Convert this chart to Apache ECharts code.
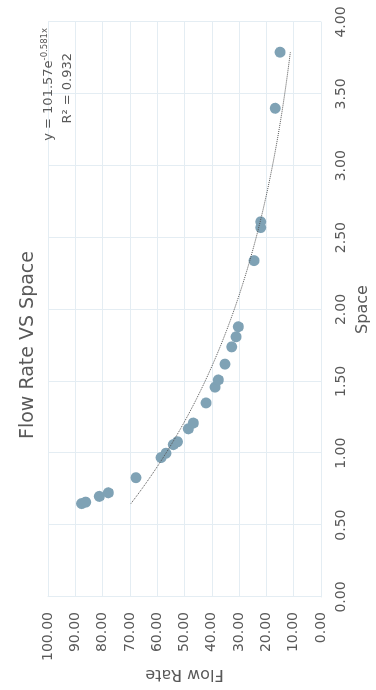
<!DOCTYPE html>
<html>
<head>
<meta charset="utf-8">
<script src="https://cdn.jsdelivr.net/npm/echarts@6/dist/echarts.min.js"></script>
<style>
  html, body { margin: 0; padding: 0; background: #ffffff; overflow: hidden; }
  #stage { position: relative; width: 376px; height: 690px; overflow: hidden; }
  /* The chart is laid out landscape and turned a quarter-turn to stand upright */
  #chart {
    position: absolute; left: 0; top: 0;
    width: 690px; height: 376px;
    transform-origin: 0 0;
    transform: translateY(690px) rotate(-90deg);
  }
</style>
</head>
<body>
<div id="stage"><div id="chart"></div></div>
<script>
// Measured observations: spacing (x) and flow rate (y)
const space = [0.65, 0.66, 0.70, 0.725, 0.83, 0.97, 1.00, 1.06, 1.08, 1.17, 1.21, 1.35, 1.46, 1.51, 1.62, 1.74, 1.81, 1.88, 2.34, 2.57, 2.61, 3.40, 3.79];
const flowRate = [87.7, 86.2, 81.2, 77.9, 67.8, 58.6, 56.8, 54.1, 52.6, 48.6, 46.8, 42.1, 38.8, 37.6, 35.2, 32.7, 31.1, 30.3, 24.5, 22.1, 22.1, 16.8, 15.0];

// Exponential trendline y = A * e^(B x) and its fit quality
const trendA = 101.57;
const trendB = -0.581;
const trendR2 = 0.932;

// Axis ticks
const spaceTicks = [0, 0.5, 1, 1.5, 2, 2.5, 3, 3.5, 4];
const flowTicks = [0, 10, 20, 30, 40, 50, 60, 70, 80, 90, 100];

const points = space.map((s, i) => [s, flowRate[i]]);

// Trendline sampled across the observed spacing range
const xMin = Math.min(...space), xMax = Math.max(...space);
const trend = [];
const steps = 60;
for (let i = 0; i <= steps; i++) {
  const x = xMin + (xMax - xMin) * i / steps;
  trend.push([x, trendA * Math.exp(trendB * x)]);
}

const FONT = 'DejaVu Sans';
const TEXT = '#595959';
const GRID = '#e4edf3';

const chart = echarts.init(document.getElementById('chart'), null, { width: 690, height: 376, renderer: 'canvas' });
chart.setOption({
  animation: false,
  backgroundColor: '#ffffff',
  title: [
    {
      text: 'Flow Rate VS Space',
      left: 'center', top: 14,
      textStyle: { fontFamily: FONT, fontSize: 19, fontWeight: 'normal', color: TEXT }
    },
    {
      text: 'y = ' + trendA.toFixed(2) + 'e{sup|' + trendB.toFixed(3) + 'x}',
      right: 23, top: 35,
      textStyle: {
        fontFamily: FONT, fontSize: 13, fontWeight: 'normal', color: TEXT,
        rich: { sup: { fontFamily: FONT, fontSize: 8.5, color: TEXT, verticalAlign: 'top', padding: [0, 0, 9, 0] } }
      }
    },
    {
      text: 'R² = ' + trendR2.toFixed(3),
      right: 48, top: 56,
      textStyle: { fontFamily: FONT, fontSize: 13, fontWeight: 'normal', color: TEXT }
    }
  ],
  grid: { left: 93, right: 22, top: 48, bottom: 55, outerBoundsMode: 'none', containLabel: false },
  xAxis: {
    type: 'value',
    min: spaceTicks[0], max: spaceTicks[spaceTicks.length - 1], interval: spaceTicks[1] - spaceTicks[0],
    name: 'Space', nameLocation: 'middle', nameGap: 34, nameMoveOverlap: false,
    nameTextStyle: { fontFamily: FONT, fontSize: 16, color: TEXT },
    axisLine: { show: true, lineStyle: { color: GRID } },
    axisTick: { show: false },
    axisLabel: { fontFamily: FONT, fontSize: 14, color: TEXT, margin: 13, formatter: v => v.toFixed(2) },
    splitLine: { show: true, lineStyle: { color: GRID, width: 1 } }
  },
  yAxis: {
    type: 'value',
    min: flowTicks[0], max: flowTicks[flowTicks.length - 1], interval: flowTicks[1] - flowTicks[0],
    name: 'Flow Rate', nameLocation: 'middle', nameGap: 69, nameRotate: 90, nameMoveOverlap: false,
    nameTextStyle: { fontFamily: FONT, fontSize: 16, color: TEXT },
    axisLine: { show: true, lineStyle: { color: GRID } },
    axisTick: { show: false },
    axisLabel: { fontFamily: FONT, fontSize: 14, color: TEXT, margin: 15, formatter: v => v.toFixed(2) },
    splitLine: { show: true, lineStyle: { color: GRID, width: 1 } }
  },
  series: [
    {
      type: 'line',
      data: trend,
      showSymbol: false,
      smooth: false,
      lineStyle: { color: '#555555', width: 1, type: [1, 1] },
      z: 3
    },
    {
      type: 'scatter',
      data: points,
      symbolSize: 11,
      itemStyle: { color: '#7fa2b5', opacity: 1 },
      z: 2
    }
  ]
});
</script>
</body>
</html>
